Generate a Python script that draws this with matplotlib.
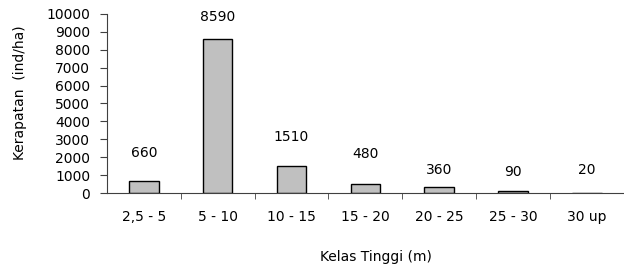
import matplotlib
matplotlib.use("Agg")
import matplotlib.pyplot as plt
import numpy as np

# data
kelas = ['2,5 - 5', '5 - 10', '10 - 15', '15 - 20', '20 - 25', '25 - 30', '30 up']
kerapatan = [660, 8590, 1510, 480, 360, 90, 20]

plt.rcParams['font.family'] = ['DejaVu Sans']
plt.rcParams['font.size'] = 10

fig = plt.figure(figsize=(6.24, 2.69), dpi=100)
ax = fig.add_axes([0.1715, 0.2825, 0.828, 0.6655])

x = np.arange(len(kelas))
ax.bar(x, kerapatan, width=0.4, color='#c0c0c0', edgecolor='black', linewidth=1)

# data labels (excel-style placement, offsets in points above bar top)
label_offsets = [20, 16, 21, 22, 12, 14, 16]
for xi, v, off in zip(x, kerapatan, label_offsets):
    ax.annotate(str(v), (xi, v), xytext=(0, off), textcoords='offset points',
                ha='center', va='center', fontsize=10)

ax.set_xlim(-0.5, len(kelas) - 0.5)
ax.set_ylim(0, 10000)
ax.set_yticks(range(0, 10001, 1000))
ax.set_xticks(x)
ax.set_xticklabels(kelas)
ax.set_xticks(x[:-1] + 0.5, minor=True)
ax.tick_params(axis='x', which='major', length=0, pad=12)
ax.tick_params(axis='x', which='minor', length=4, direction='out', color='#404040')
ax.tick_params(axis='y', length=5, direction='out', pad=7, color='#404040')

for s in ['top', 'right']:
    ax.spines[s].set_visible(False)
for s in ['left', 'bottom']:
    ax.spines[s].set_color('#404040')

ax.set_ylabel('Kerapatan  (ind/ha)', va='center')
ax.yaxis.set_label_coords(-0.168, 0.559)
ax.set_xlabel('Kelas Tinggi (m)', va='center')
ax.xaxis.set_label_coords(0.52, -0.358)

fig.savefig('out.png', dpi=100)
